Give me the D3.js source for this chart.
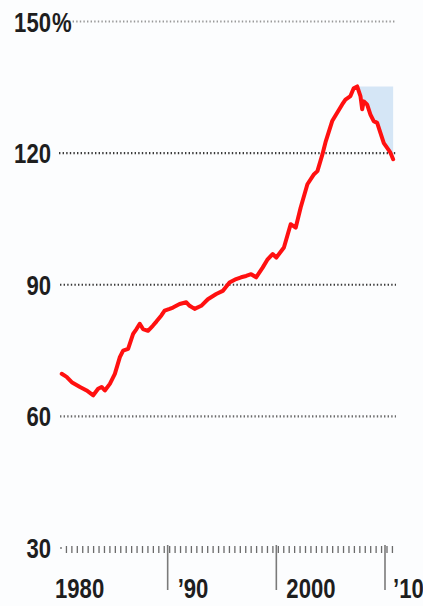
<!DOCTYPE html>
<html>
<head>
<meta charset="utf-8">
<script src="https://cdn.jsdelivr.net/npm/d3@7"></script>
<style>
  html, body { margin: 0; padding: 0; background: #fcfdfe; }
  svg { display: block; }
  .lbl { font-family: "Liberation Sans", Arial, sans-serif; font-weight: bold; font-size: 27px; fill: #1e1e1e; }
</style>
</head>
<body>
<script>
// Index, % — decimal year and value
const years = [
  1980.25, 1980.7, 1981.17, 1981.93, 1982.54, 1983.15, 1983.6, 1983.92, 1984.22, 1984.68,
  1985.14, 1985.6, 1985.9, 1986.36, 1986.82, 1987.13, 1987.43, 1987.73, 1988.19, 1988.65,
  1988.96, 1989.42, 1989.72, 1990.18, 1990.49, 1991.1, 1991.72, 1992.02, 1992.48, 1993.09,
  1993.7, 1994.47, 1995.07, 1995.69, 1996.3, 1996.76, 1997.22, 1997.68, 1998.14, 1998.74,
  1999.2, 1999.66, 2000.0, 2000.7, 2001.32, 2001.78, 2002.24, 2002.86, 2003.47, 2003.78,
  2004.24, 2004.55, 2005.14, 2005.6, 2006.06, 2006.36, 2006.82, 2007.12, 2007.44, 2007.74,
  2007.9, 2008.04, 2008.35, 2008.66, 2008.96, 2009.28, 2009.58, 2009.89, 2010.2, 2010.5, 2010.75
];
const values = [
  69.7, 69.0, 67.8, 66.7, 65.9, 64.8, 66.3, 66.7, 65.9, 67.4,
  69.7, 73.5, 75.0, 75.4, 78.8, 79.9, 81.1, 79.9, 79.5, 80.7,
  81.6, 83.0, 84.1, 84.5, 84.8, 85.6, 86.0, 85.2, 84.5, 85.2,
  86.7, 87.9, 88.6, 90.5, 91.3, 91.7, 92.0, 92.4, 91.7, 93.9,
  95.8, 97.0, 96.2, 98.5, 103.8, 103.0, 107.6, 112.9, 115.2, 115.9,
  119.7, 122.7, 127.3, 129.2, 131.1, 132.2, 133.0, 134.8, 135.2, 133.0,
  130.0, 131.8, 131.1, 128.8, 127.3, 126.9, 124.6, 122.3, 121.2, 120.1, 118.6
];
const yTicks = [150, 120, 90, 60, 30];
const yTickLabels = ["150", "120", "90", "60", "30"];
const decadeTicks = [1990, 2000, 2010];
const xLabelYears = [1980, 1990, 2000, 2010];
const xLabels = ["1980", "’90", "2000", "’10"];

const W = 423, H = 606;
const NARROW = 0.82; // horizontal squeeze for the condensed label face
const svg = d3.select("body").append("svg").attr("width", W).attr("height", H);

const x = d3.scaleLinear().domain([1980, 2010]).range([59, 385]);
const y = d3.scaleLinear().domain([30, 150]).range([548, 21.5]);

const data = years.map((t, i) => ({ t, v: values[i] }));

// dotted gridlines
const gridStart = { 150: 69, 120: 59, 90: 60, 60: 60 };
const gridColor = { 150: "#9a9a9a", 120: "#3a3a3a", 90: "#3a3a3a", 60: "#6a6a6a" };
svg.append("g").selectAll("line")
  .data(yTicks.filter(d => d !== 30))
  .join("line")
  .attr("x1", d => gridStart[d])
  .attr("x2", 396)
  .attr("y1", d => y(d))
  .attr("y2", d => y(d))
  .attr("stroke", d => gridColor[d])
  .attr("stroke-width", 2.2)
  .attr("stroke-dasharray", "1.4,2.2");

// y labels
const yl = svg.append("g");
yl.selectAll("text")
  .data(yTicks)
  .join("text")
  .attr("class", "lbl")
  .attr("transform", d => `translate(51,${y(d) + 10}) scale(${NARROW},1)`)
  .attr("text-anchor", "end")
  .text((d, i) => yTickLabels[i]);
yl.append("text")
  .attr("class", "lbl")
  .attr("transform", `translate(52,${y(150) + 10}) scale(${NARROW},1)`)
  .text("%");

// x axis: half-year minor ticks and decade ticks
const minor = d3.range(1980, 2010.76, 0.5);
svg.append("g").selectAll("line")
  .data(minor)
  .join("line")
  .attr("x1", d => x(d) + 2)
  .attr("x2", d => x(d) + 2)
  .attr("y1", (d, i) => i === 0 ? 547 : 546)
  .attr("y2", (d, i) => i === 0 ? 549 : 553)
  .attr("stroke", "#6b6b6b")
  .attr("stroke-width", 1.3);

svg.append("g").selectAll("line")
  .data(decadeTicks)
  .join("line")
  .attr("x1", d => x(d))
  .attr("x2", d => x(d))
  .attr("y1", 545)
  .attr("y2", 590)
  .attr("stroke", "#7a7a7a")
  .attr("stroke-width", 1.6);

const xLabelX = d => d === 1980 ? x(d) - 4 : d === 2010 ? x(d) + 8 : x(d) + 10;
svg.append("g").selectAll("text")
  .data(xLabelYears)
  .join("text")
  .attr("class", "lbl")
  .attr("transform", d => `translate(${xLabelX(d)},598) scale(${NARROW},1)`)
  .text((d, i) => xLabels[i]);

// shaded fall from the peak
const peakIdx = d3.maxIndex(data, d => d.v);
const peak = data[peakIdx].v;
const after = data.slice(peakIdx);
svg.append("path")
  .datum(after)
  .attr("fill", "#d5e6f6")
  .attr("d", d3.area()
    .x(d => x(d.t))
    .y0(y(peak))
    .y1(d => y(d.v)));

// index line
svg.append("path")
  .datum(data)
  .attr("fill", "none")
  .attr("stroke", "#ff1010")
  .attr("stroke-width", 4)
  .attr("stroke-linejoin", "round")
  .attr("stroke-linecap", "round")
  .attr("d", d3.line().x(d => x(d.t)).y(d => y(d.v)));
</script>
</body>
</html>
